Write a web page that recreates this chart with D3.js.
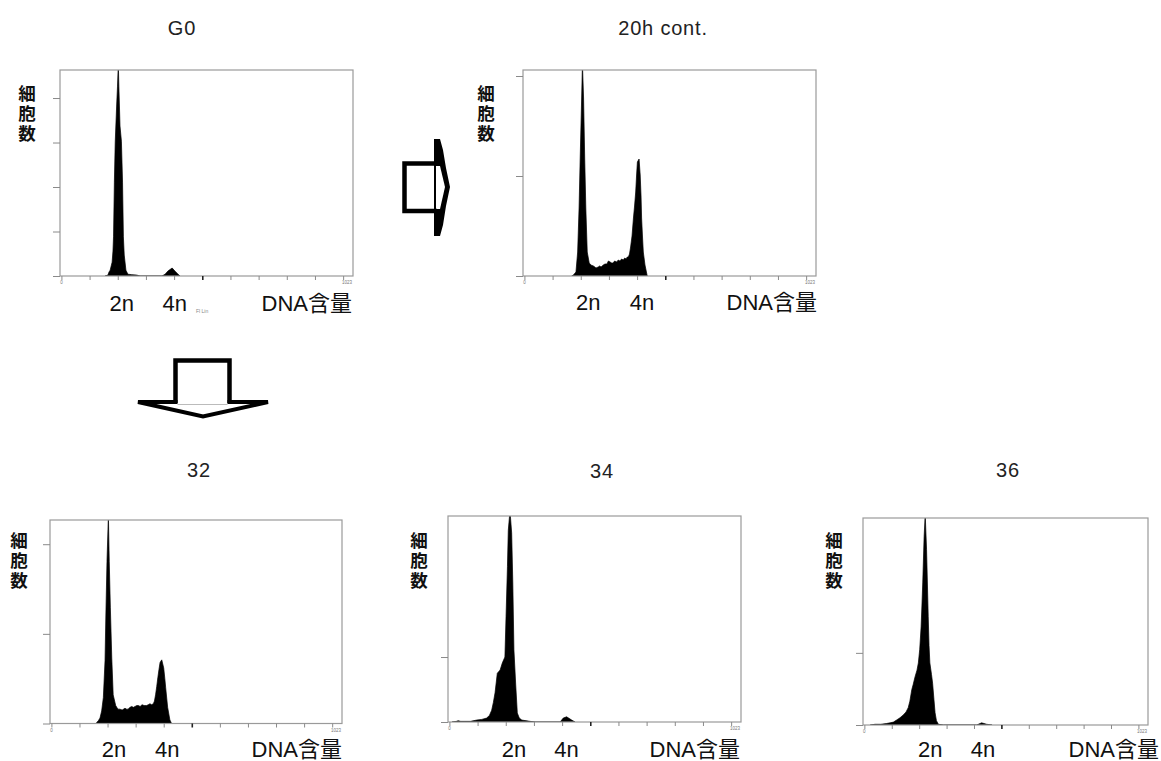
<!DOCTYPE html>
<html><head><meta charset="utf-8">
<script src="https://cdn.jsdelivr.net/npm/d3@7"></script>
<style>
html,body{margin:0;padding:0;background:#fff;}
svg{display:block;}
</style></head><body>
<svg id="chart" width="1161" height="761"></svg>
<script>
// ---------------- data ----------------
const panelTitles = ["G0", "20h cont.", "32", "34", "36"];
const yAxisLabel = "細胞数";
const xAxisLabel = "DNA含量";
const ploidyLabels = ["2n", "4n"];
const xDomain = [-5, 1035];
const xTicks = [0, 100, 200, 300, 400, 500, 600, 700, 800, 900, 1000];
const yMaxes = [463, 206, 227, 317, 287];
const yTicksG0 = [100, 200, 300, 400];
const yTicks20h = [100, 200];
const yTicks32 = [100, 200];
const yTicks34 = [100];
const yTicks36 = [100];
// channel where each 2n / 4n label is centred
const ploidyLabelChannels = [[214, 402], [227, 417], [223, 413], [229, 416], [240, 433]];

// histograms: [channel, cell count]
const histG0 = [[155,0],[165,2],[169,9],[173,13],[180,31],[183,56],[185,88],[188,211],[191,301],[196,382],[199,425],[202,477],[204,425],[208,337],[213,303],[217,211],[220,88],[223,47],[229,13],[236,4],[250,3],[268,2],[279,0],
  [357,0],[368,4],[378,11],[393,18],[403,11],[414,4],[421,0]];
const hist20h = [[168,0],[174,1],[183,4],[189,24],[194,68],[198,118],[202,164],[206,212],[210,178],[214,118],[218,68],[223,24],[230,13],[236,11],[245,10],[250,9],[254,8],[262,9],[267,10],[272,9],[280,11],[286,12],[293,12],[298,15],[304,14],[310,13],[315,13],[320,15],[328,14],[333,16],[339,15],[345,17],[351,16],[356,18],[361,17],[365,19],[369,19],[373,22],[377,29],[382,40],[387,58],[391,70],[395,84],[398,100],[401,114],[407,117],[411,101],[414,80],[416,58],[419,40],[422,24],[428,11],[436,0]];
const hist32 = [[161,1],[167,3],[173,6],[179,14],[185,29],[191,70],[194,121],[198,181],[203,232],[206,181],[210,129],[215,73],[220,32],[229,20],[237,16],[244,16],[252,15],[262,17],[268,16],[273,16],[280,18],[286,19],[292,18],[298,19],[304,20],[310,20],[316,19],[323,21],[330,20],[339,20],[345,21],[351,22],[357,21],[363,22],[367,25],[371,32],[375,41],[379,51],[383,60],[387,68],[393,71],[400,62],[404,50],[407,40],[414,18],[422,4],[428,0]];
const hist34 = [[9,0],[25,1],[31,2],[40,1],[55,1],[75,1],[97,3],[115,4],[132,6],[142,10],[150,18],[156,30],[162,45],[170,75],[180,80],[188,91],[197,100],[201,162],[206,239],[209,295],[215,325],[221,291],[225,214],[229,111],[235,60],[241,14],[248,6],[257,3],[286,1],[304,0],
  [393,0],[404,6],[416,8],[434,3],[446,0]];
const hist36 = [[21,0],[39,1],[60,1],[80,2],[94,3],[106,4],[118,7],[130,10],[142,14],[152,18],[160,24],[166,33],[173,49],[178,56],[185,67],[192,76],[197,86],[202,105],[207,136],[210,165],[213,197],[218,261],[222,292],[227,243],[233,150],[236,110],[239,86],[245,70],[249,58],[254,35],[258,17],[263,6],[270,1],[288,0],
  [410,0],[428,3],[446,1],[466,0]];

const histograms = [histG0, hist20h, hist32, hist34, hist36];
const yTickSets = [yTicksG0, yTicks20h, yTicks32, yTicks34, yTicks36];

// ---------------- layout ----------------
const frames = [
  {l: 60,  r: 353,  t: 70,  b: 276},
  {l: 523, r: 816,  t: 70,  b: 276},
  {l: 50,  r: 342,  t: 520, b: 723.5},
  {l: 448, r: 741,  t: 516, b: 722},
  {l: 863, r: 1148, t: 518, b: 725}
];
const titlePos = [[182, 35], [663, 35], [199, 477], [602, 478], [1008, 477]];
const yLabelPos = [[27, 85], [486, 85], [19, 532], [419, 532], [834, 532]];
const xLabelBaseline = [311, 310, 757, 757, 757];
const dnaRight = [352, 817, 342, 740, 1159];

const svg = d3.select("#chart");
const latin = "'Liberation Sans', Arial, 'Noto Sans CJK JP', sans-serif";

panelTitles.forEach((title, i) => {
  const f = frames[i];
  const x = d3.scaleLinear().domain(xDomain).range([f.l, f.r]);
  const y = d3.scaleLinear().domain([0, yMaxes[i]]).range([f.b, f.t]);
  const g = svg.append("g");

  const cid = "clip" + i;
  svg.append("clipPath").attr("id", cid).append("rect")
    .attr("x", f.l).attr("y", f.t).attr("width", f.r - f.l).attr("height", f.b - f.t);

  const area = d3.area().x(d => x(d[0])).y0(y(0)).y1(d => y(d[1])).curve(d3.curveLinear);
  g.append("path").datum(histograms[i])
    .attr("clip-path", `url(#${cid})`)
    .attr("d", area).attr("fill", "#000").attr("stroke", "#000").attr("stroke-width", 0.7);

  g.append("rect").attr("x", f.l).attr("y", f.t).attr("width", f.r - f.l).attr("height", f.b - f.t)
    .attr("fill", "none").attr("stroke", "#9a9a9a").attr("stroke-width", 1.2);

  const xa = g.append("g").attr("transform", `translate(0,${f.b})`)
    .call(d3.axisBottom(x).tickValues(xTicks).tickSize(4).tickFormat(""));
  xa.select(".domain").remove();
  xa.selectAll(".tick line").attr("stroke", d => d === 500 ? "#222" : "#8a8a8a").attr("stroke-width", d => d === 500 ? 1.6 : 1);

  const ya = g.append("g").attr("transform", `translate(${f.l},0)`)
    .call(d3.axisLeft(y).tickValues([0].concat(yTickSets[i])).tickSize(7).tickFormat(""));
  ya.select(".domain").remove();
  ya.selectAll(".tick line").attr("stroke", "#8a8a8a");

  g.append("text").attr("x", x(0)).attr("y", f.b + 8).attr("font-size", 4.5)
    .attr("fill", "#777").attr("font-family", latin).attr("text-anchor", "middle").text("0");
  g.append("text").attr("x", f.r - 1).attr("y", f.b + 8).attr("font-size", 4.5)
    .attr("fill", "#777").attr("font-family", latin).attr("text-anchor", "end").text("1023");
  if (i === 0) {
    g.append("text").attr("x", 196).attr("y", 313).attr("font-size", 5)
      .attr("fill", "#888").attr("font-family", latin).text("Fl Lin");
  }

  svg.append("text").attr("x", titlePos[i][0]).attr("y", titlePos[i][1])
    .attr("text-anchor", "middle").attr("font-family", latin).attr("font-size", 20)
    .attr("letter-spacing", 0.8).attr("fill", "#222").text(title);

  // vertical y label as one text element
  svg.append("text").attr("x", yLabelPos[i][0]).attr("y", yLabelPos[i][1])
    .style("writing-mode", "vertical-rl").style("text-orientation", "upright")
    .attr("letter-spacing", 2.5)
    .attr("font-family", "'Noto Sans CJK JP', sans-serif").attr("font-weight", 700)
    .attr("font-size", 17.5).attr("fill", "#111").text(yAxisLabel);

  ploidyLabels.forEach((lab, k) => {
    svg.append("text").attr("x", x(ploidyLabelChannels[i][k])).attr("y", xLabelBaseline[i])
      .attr("text-anchor", "middle").attr("font-family", latin).attr("font-size", 22)
      .attr("fill", "#111").text(lab);
  });
  svg.append("text").attr("x", dnaRight[i]).attr("y", xLabelBaseline[i])
    .attr("text-anchor", "end").attr("font-family", latin).attr("font-size", 22)
    .attr("fill", "#111").text(xAxisLabel);
});

// ---------------- arrows ----------------
const ra = svg.append("g");
ra.append("path").attr("d", "M434,139 L440,139 L443,150 L446,168 L450,187 L446,206 L443,225 L440,236 L434,236 Z").attr("fill", "#000");
ra.append("path").attr("d", "M436,166 L440,166 L445,187 L440,209 L436,209 Z").attr("fill", "#fff");
ra.append("path").attr("d", "M437,163.5 H404.5 V211 H437").attr("fill", "none").attr("stroke", "#000").attr("stroke-width", 4.5);

const da = svg.append("g");
da.append("path").attr("d", "M138,402 L268,402 L203,416.5 Z").attr("fill", "#fff").attr("stroke", "#000").attr("stroke-width", 4).attr("stroke-linejoin", "miter");
da.append("line").attr("x1", 177.5).attr("x2", 227.5).attr("y1", 402).attr("y2", 402).attr("stroke", "#fff").attr("stroke-width", 4.2);
da.append("line").attr("x1", 177.5).attr("x2", 227.5).attr("y1", 404.5).attr("y2", 404.5).attr("stroke", "#bbb").attr("stroke-width", 1);
da.append("path").attr("d", "M175.5,403 V360.5 H229.5 V403").attr("fill", "none").attr("stroke", "#000").attr("stroke-width", 4.5);
</script>
</body></html>
